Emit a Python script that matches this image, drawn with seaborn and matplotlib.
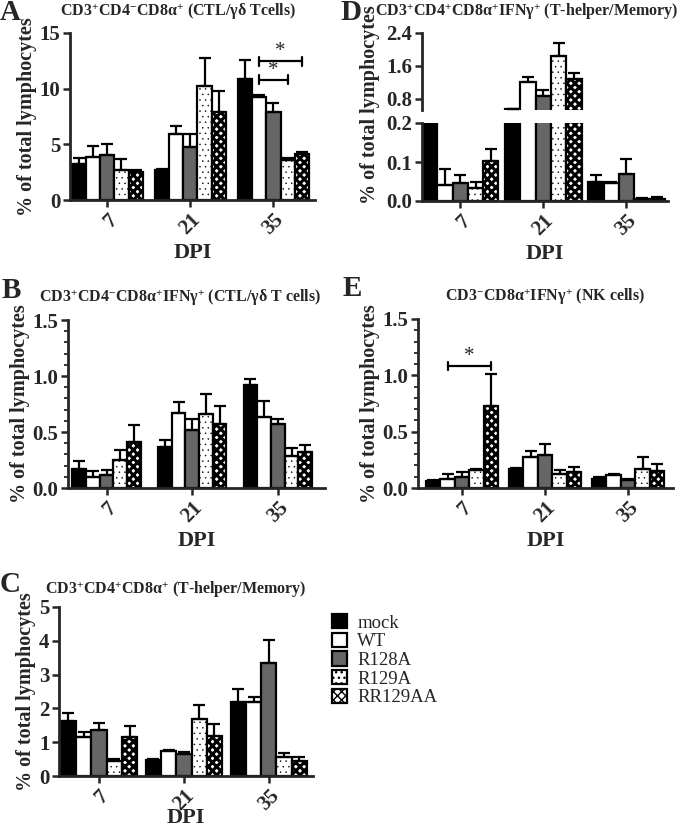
import numpy as np
import pandas as pd
import matplotlib
matplotlib.use("Agg")
import matplotlib.pyplot as plt
from matplotlib.ticker import MultipleLocator
import seaborn as sns

# Groups and time points
groups = ["mock", "WT", "R128A", "R129A", "RR129AA"]
days = ["7", "21", "35"]

# Means and upper SEM, rows = DPI 7 / 21 / 35, columns = groups
a_mean = [[3.27, 3.90, 4.05, 2.70, 2.55],
          [2.70, 5.91, 4.77, 10.23, 7.86],
          [10.86, 9.24, 7.92, 3.57, 4.14]]
a_err = [[0.51, 0.96, 1.02, 0.96, 0.15],
         [0.09, 0.75, 1.20, 2.52, 1.89],
         [1.71, 0.18, 0.81, 0.21, 0.15]]

b_mean = [[0.17, 0.10, 0.12, 0.25, 0.415],
          [0.365, 0.674, 0.52, 0.66, 0.567],
          [0.924, 0.633, 0.573, 0.29, 0.318]]
b_err = [[0.07, 0.055, 0.04, 0.09, 0.145],
         [0.065, 0.096, 0.10, 0.18, 0.166],
         [0.053, 0.147, 0.047, 0.066, 0.062]]

c_mean = [[1.63, 1.16, 1.35, 0.44, 1.14],
          [0.475, 0.74, 0.64, 1.68, 1.19],
          [2.18, 2.18, 3.33, 0.55, 0.455]]
c_err = [[0.23, 0.13, 0.22, 0.06, 0.35],
         [0.025, 0.02, 0.06, 0.43, 0.36],
         [0.39, 0.17, 0.69, 0.13, 0.095]]

d_mean = [[0.30, 0.042, 0.045, 0.033, 0.102],
          [0.55, 1.20, 0.88, 1.84, 1.28],
          [0.05, 0.045, 0.07, 0.005, 0.006]]
d_err = [[0.0, 0.04, 0.022, 0.015, 0.032],
         [0.0, 0.12, 0.14, 0.31, 0.14],
         [0.016, 0.005, 0.038, 0.003, 0.003]]

e_mean = [[0.062, 0.08, 0.10, 0.16, 0.728],
          [0.17, 0.275, 0.293, 0.127, 0.139],
          [0.08, 0.112, 0.074, 0.169, 0.154]]
e_err = [[0.005, 0.044, 0.04, 0.009, 0.287],
         [0.008, 0.05, 0.10, 0.033, 0.044],
         [0.015, 0.015, 0.005, 0.106, 0.056]]

colors = {"mock": "black", "WT": "white", "R128A": "#666666",
          "R129A": "white", "RR129AA": "white"}
hatches = {"mock": None, "WT": None, "R128A": None,
           "R129A": "...", "RR129AA": "xxxx"}
hatch_lw = {"R129A": 0.3, "RR129AA": 2.2}

sns.set_style("ticks")
plt.rcParams["font.family"] = ["Liberation Serif", "DejaVu Serif"]
plt.rcParams["font.weight"] = "bold"
plt.rcParams["mathtext.fontset"] = "custom"
plt.rcParams["mathtext.rm"] = "Liberation Serif:bold"
plt.rcParams["mathtext.bf"] = "Liberation Serif:bold"
plt.rcParams["mathtext.it"] = "Liberation Serif:bold"
plt.rcParams["mathtext.default"] = "rm"
plt.rcParams["hatch.linewidth"] = 1.0

W, H = 680, 832
fig = plt.figure(figsize=(W / 100, H / 100), dpi=100)

TICK = 15
YLAB = 14.5


def box(l, t, r, b):
    return [l / W, 1 - b / H, (r - l) / W, (b - t) / H]


def draw(ax, mean, err, width, xlim, xpad=0):
    df = pd.DataFrame({"DPI": np.repeat(days, len(groups)),
                       "group": np.tile(groups, len(days)),
                       "value": np.ravel(mean),
                       "err": np.ravel(err)})
    sns.barplot(data=df, x="DPI", y="value", hue="group", order=days,
                hue_order=groups, palette=colors, width=width,
                edgecolor="black", linewidth=1.6, errorbar=None,
                legend=False, ax=ax)
    for g, cont in zip(groups, ax.containers):
        sub = df[df.group == g].set_index("DPI").loc[days]
        xs, ys = [], []
        for bar in cont:
            bar.set_hatch(hatches[g])
            if g in hatch_lw:
                if hasattr(bar, "set_hatch_linewidth"):
                    bar.set_hatch_linewidth(hatch_lw[g])
                else:
                    bar._hatch_linewidth = hatch_lw[g]
            xs.append(bar.get_x() + bar.get_width() / 2)
            ys.append(bar.get_height())
        e = sub["err"].values
        ax.errorbar(xs, ys, yerr=[np.zeros_like(e), e], fmt="none",
                    ecolor="black", elinewidth=1.6, capsize=4,
                    capthick=1.6, zorder=1)
    ax.set_xlim(*xlim)
    for s in ["left", "bottom"]:
        ax.spines[s].set_linewidth(2)
    sns.despine(ax=ax)
    ax.tick_params(axis="both", width=1.8, length=5, labelsize=TICK, pad=2)
    for lab in ax.get_xticklabels():
        lab.set_rotation(45)
        lab.set_ha("right")
        lab.set_rotation_mode("anchor")
    ax.set_xlabel("DPI", fontsize=16, fontweight="bold", labelpad=xpad)
    ax.set_ylabel("% of total lymphocytes", fontsize=YLAB,
                  fontweight="bold", labelpad=2)


def label(x, y, s, size=11.5, ha="center", **kw):
    fig.text(x / W, 1 - y / H, s, ha=ha, va="center", fontsize=size,
             fontweight="bold", **kw)


def bracket(ax, x0, x1, y, tick):
    ax.plot([x0, x1], [y, y], color="black", lw=1.6)
    ax.plot([x0, x0], [y - tick, y + tick], color="black", lw=1.6)
    ax.plot([x1, x1], [y - tick, y + tick], color="black", lw=1.6)
    ax.text((x0 + x1) / 2, y, "*", ha="center", va="bottom",
            fontsize=15, fontweight="normal")


# Panel A
axA = fig.add_axes(box(70, 33, 315, 200))
draw(axA, a_mean, a_err, 0.85, (-0.45, 2.5), xpad=3)
axA.set_ylim(0, 15)
axA.set_yticks([0, 5, 10, 15])
xs = [b.get_x() + b.get_width() / 2 for b in
      [axA.containers[1][2], axA.containers[3][2], axA.containers[4][2]]]
bracket(axA, xs[0], xs[2], 12.45, 0.4)
bracket(axA, xs[0], xs[1], 10.8, 0.4)
label(178, 12, r"CD3$^{+}$CD4$^{-}$CD8α$^{+}$ (CTL/γδ Tcells)")
label(0, 12, "A", size=21, ha="left")

# Panel B
axB = fig.add_axes(box(68, 320, 325, 488))
draw(axB, b_mean, b_err, 0.8, (-0.45, 2.55), xpad=3)
axB.set_ylim(0, 1.5)
axB.set_yticks([0, 0.5, 1.0, 1.5])
axB.set_yticklabels(["0.0", "0.5", "1.0", "1.5"])
axB.yaxis.set_minor_locator(MultipleLocator(0.1))
axB.tick_params(axis="y", which="minor", length=3, width=1.3)
label(180, 298, r"CD3$^{+}$CD4$^{-}$CD8α$^{+}$IFNγ$^{+}$ (CTL/γδ T cells)")
label(2, 291, "B", size=21, ha="left")

# Panel C
axC = fig.add_axes(box(59, 607, 313, 776))
draw(axC, c_mean, c_err, 0.9, (-0.47, 2.52), xpad=-5)
axC.set_ylim(0, 5)
axC.set_yticks([0, 1, 2, 3, 4, 5])
label(176, 590, r"CD3$^{+}$CD4$^{+}$CD8α$^{+}$ (T-helper/Memory)")
label(0, 584, "C", size=21, ha="left")

# Panel D (broken axis)
axDt = fig.add_axes(box(422, 33, 668, 110))
axDb = fig.add_axes(box(422, 123, 668, 201))
draw(axDt, d_mean, d_err, 0.92, (-0.46, 2.5))
draw(axDb, d_mean, d_err, 0.92, (-0.46, 2.5), xpad=3)
axDt.set_ylim(0.53, 2.4)
axDt.set_yticks([0.8, 1.6, 2.4])
axDt.set_yticklabels(["0.8", "1.6", "2.4"])
axDt.spines["bottom"].set_visible(False)
axDt.tick_params(axis="x", bottom=False, labelbottom=False)
axDt.set_xlabel("")
axDt.set_ylabel("")
axDb.set_ylim(0, 0.2)
axDb.set_yticks([0, 0.1, 0.2])
axDb.set_yticklabels(["0.0", "0.1", "0.2"])
axDb.set_ylabel("")
label(370, 105, "% of total lymphocytes", size=YLAB, rotation=90)
label(527, 12, r"CD3$^{+}$CD4$^{+}$CD8α$^{+}$IFNγ$^{+}$ (T-helper/Memory)")
label(340, 12, "D", size=21, ha="left")

# Panel E
axE = fig.add_axes(box(418, 319, 673, 488))
draw(axE, e_mean, e_err, 0.87, (-0.53, 2.54), xpad=3)
axE.set_ylim(0, 1.5)
axE.set_yticks([0, 0.5, 1.0, 1.5])
axE.set_yticklabels(["0.0", "0.5", "1.0", "1.5"])
axE.yaxis.set_minor_locator(MultipleLocator(0.1))
axE.tick_params(axis="y", which="minor", length=3, width=1.3)
xs = [b.get_x() + b.get_width() / 2 for b in
      [axE.containers[1][0], axE.containers[4][0]]]
bracket(axE, xs[0], xs[1], 1.08, 0.035)
label(545, 297, r"CD3$^{-}$CD8α$^{+}$IFNγ$^{+}$ (NK cells)")
label(343, 288, "E", size=21, ha="left")

# Legend
fig.legend([c[0] for c in axA.containers], groups,
           loc="upper left", bbox_to_anchor=(332 / W, 1 - 614 / H),
           frameon=False, prop={"weight": "normal", "size": 13.5},
           handlelength=0.8, handleheight=0.8, handletextpad=0.55,
           labelspacing=0.05, borderpad=0, borderaxespad=0)

plt.savefig("out.png", dpi=100)
